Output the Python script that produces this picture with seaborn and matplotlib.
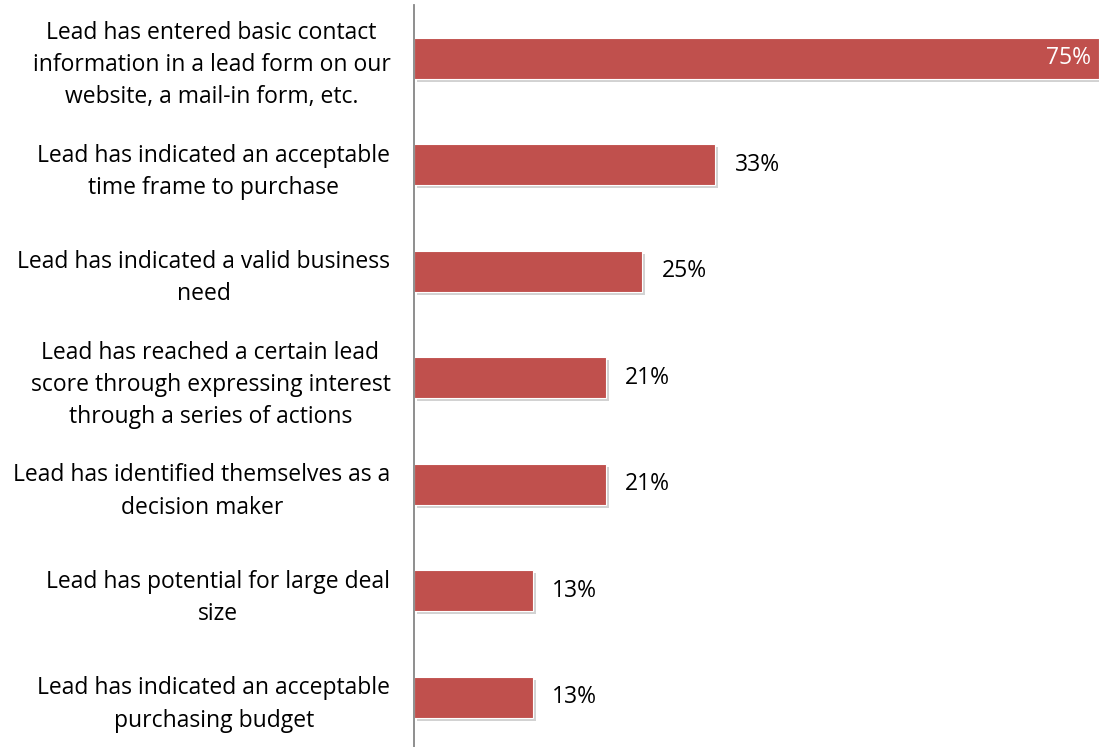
import pandas as pd
import seaborn as sns
import matplotlib.pyplot as plt
import matplotlib.patheffects as pe

# Data
categories = [
    'Lead has entered basic contact\ninformation in a lead form on our\nwebsite, a mail-in form, etc.',
    'Lead has indicated an acceptable\ntime frame to purchase',
    'Lead has indicated a valid business\nneed',
    'Lead has reached a certain lead\nscore through expressing interest\nthrough a series of actions',
    'Lead has identified themselves as a\ndecision maker',
    'Lead has potential for large deal\nsize',
    'Lead has indicated an acceptable\npurchasing budget',
]
values = [75, 33, 25, 21, 21, 13, 13]

df = pd.DataFrame({'category': categories, 'value': values})

sns.set_style('white')
plt.rcParams['font.family'] = ['Open Sans', 'DejaVu Sans']

fig = plt.figure(figsize=(10.99, 7.47), dpi=100)
ax = fig.add_axes([414 / 1099, -0.005, 1 - 414 / 1099, 1 - 5 / 747 + 0.005])

sns.barplot(data=df, x='value', y='category', color='#C0504D', width=0.385,
            saturation=1, edgecolor='white', linewidth=0.8, ax=ax)

for bar in ax.patches:
    bar.set_path_effects([pe.SimplePatchShadow(offset=(2, -2), alpha=0.35, shadow_rgbFace='gray'),
                          pe.Normal()])

ax.set_xlim(0, 75)
ax.set_xlabel('')
ax.set_ylabel('')
ax.set_xticks([])

for s in ['top', 'right', 'bottom']:
    ax.spines[s].set_visible(False)
ax.spines['left'].set_color('#868686')
ax.spines['left'].set_linewidth(1.3)

ax.tick_params(axis='y', length=0, pad=17, labelsize=16.5, labelcolor='black')
for lbl in ax.get_yticklabels():
    lbl.set_multialignment('center')
    lbl.set_linespacing(1.45)

# value labels
for bar, v in zip(ax.patches, values):
    y = bar.get_y() + bar.get_height() / 2
    if v == max(values):
        ax.text(v - 0.9, y, f'{v}%', ha='right', va='center', color='white', fontsize=16.5)
    else:
        ax.text(v + 2.1, y, f'{v}%', ha='left', va='center', color='black', fontsize=16.5)

fig.savefig('out.png', dpi=100)
